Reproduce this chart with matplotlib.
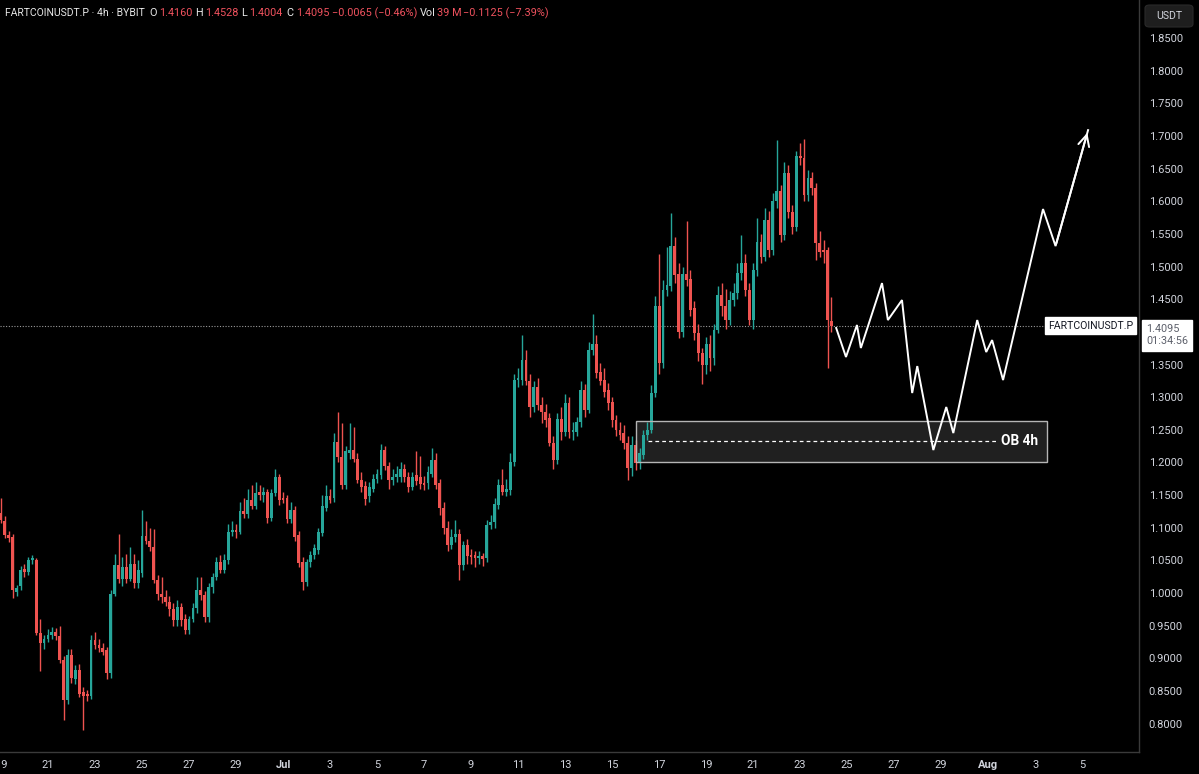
import matplotlib
matplotlib.use("Agg")
import matplotlib.pyplot as plt
from matplotlib.patches import Rectangle, FancyBboxPatch
import numpy as np

plt.rcParams['font.family'] = ['Roboto', 'DejaVu Sans']

# ---------------- data (4h candles, FARTCOINUSDT.P, Jun 19 00:00 -> Jul 24 08:00) ----------------
opens = [1.122,1.110,1.089,1.086,1.001,1.010,1.037,1.032,1.050,1.050,
         0.939,0.923,0.930,0.936,0.940,0.934,0.897,0.836,0.905,0.868,
         0.882,0.848,0.845,0.842,0.928,0.920,0.916,0.912,0.877,0.999,
         1.043,1.022,1.040,1.022,1.045,1.015,1.030,1.088,1.079,1.071,
         1.020,0.999,0.994,0.986,0.976,0.958,0.978,0.960,0.944,0.960,
         0.977,1.004,0.997,0.963,1.009,1.025,1.048,1.035,1.050,1.094,
         1.097,1.094,1.126,1.121,1.143,1.133,1.155,1.150,1.155,1.115,
         1.153,1.177,1.145,1.145,1.114,1.127,1.089,1.048,1.017,1.048,
         1.058,1.066,1.092,1.130,1.148,1.145,1.232,1.209,1.166,1.214,
         1.219,1.206,1.173,1.164,1.148,1.160,1.175,1.181,1.219,1.194,
         1.173,1.178,1.177,1.190,1.177,1.163,1.181,1.177,1.168,1.168,
         1.183,1.204,1.168,1.130,1.099,1.074,1.086,1.091,1.043,1.074,
         1.058,1.058,1.053,1.056,1.053,1.104,1.109,1.135,1.166,1.155,
         1.158,1.201,1.326,1.326,1.357,1.324,1.285,1.316,1.288,1.278,
         1.268,1.230,1.204,1.267,1.246,1.291,1.246,1.247,1.262,1.311,
         1.281,1.372,1.381,1.339,1.326,1.311,1.293,1.265,1.250,1.245,
         1.230,1.191,1.227,1.201,1.211,1.242,1.250,1.306,1.439,1.352,
         1.464,1.470,1.531,1.488,1.400,1.488,1.481,1.436,1.398,1.367,
         1.350,1.382,1.360,1.403,1.457,1.439,1.418,1.449,1.459,1.490,
         1.505,1.464,1.418,1.495,1.538,1.515,1.571,1.525,1.600,1.615,
         1.548,1.643,1.584,1.561,1.669,1.666,1.610,1.635,1.620,1.536,
         1.525,1.525,1.4160]
highs = [1.145,1.118,1.095,1.090,1.012,1.042,1.045,1.055,1.058,1.054,
         0.960,0.935,0.945,0.948,0.946,0.950,0.903,0.915,0.915,0.890,
         0.892,0.856,0.852,0.935,0.940,0.930,0.924,0.918,1.005,1.060,
         1.090,1.055,1.060,1.070,1.060,1.050,1.127,1.110,1.100,1.098,
         1.028,1.025,1.005,0.995,0.985,0.990,0.985,0.968,0.965,0.985,
         1.025,1.025,1.003,1.015,1.030,1.055,1.058,1.060,1.105,1.110,
         1.105,1.140,1.145,1.160,1.165,1.170,1.165,1.162,1.160,1.160,
         1.190,1.182,1.155,1.150,1.140,1.133,1.095,1.055,1.052,1.065,
         1.075,1.100,1.150,1.165,1.160,1.245,1.278,1.260,1.225,1.260,
         1.255,1.215,1.185,1.172,1.170,1.182,1.190,1.228,1.225,1.200,
         1.190,1.195,1.200,1.198,1.185,1.185,1.217,1.210,1.180,1.195,
         1.222,1.215,1.175,1.140,1.110,1.098,1.112,1.098,1.080,1.082,
         1.068,1.065,1.065,1.062,1.112,1.120,1.145,1.175,1.190,1.175,
         1.215,1.335,1.345,1.395,1.372,1.335,1.325,1.330,1.300,1.290,
         1.275,1.240,1.275,1.285,1.305,1.300,1.262,1.270,1.325,1.320,
         1.385,1.428,1.395,1.352,1.345,1.322,1.300,1.272,1.262,1.258,
         1.240,1.240,1.235,1.222,1.250,1.262,1.318,1.455,1.520,1.480,
         1.530,1.582,1.545,1.505,1.500,1.570,1.495,1.448,1.412,1.375,
         1.392,1.395,1.412,1.470,1.475,1.465,1.462,1.475,1.505,1.548,
         1.520,1.475,1.505,1.575,1.550,1.590,1.585,1.612,1.694,1.625,
         1.660,1.655,1.595,1.677,1.690,1.696,1.648,1.645,1.628,1.555,
         1.540,1.530,1.4528]
lows = [1.108,1.085,1.078,0.992,0.995,1.005,1.025,1.028,1.044,0.935,
        0.880,0.915,0.925,0.930,0.928,0.893,0.806,0.830,0.862,0.860,
        0.840,0.790,0.835,0.838,0.915,0.910,0.905,0.868,0.870,0.995,
        1.015,1.010,1.015,1.018,1.008,1.008,1.025,1.075,1.065,1.015,
        0.990,0.985,0.980,0.965,0.950,0.950,0.950,0.938,0.938,0.955,
        0.970,0.990,0.955,0.955,1.000,1.020,1.030,1.030,1.045,1.088,
        1.085,1.090,1.115,1.115,1.128,1.128,1.143,1.140,1.108,1.110,
        1.148,1.135,1.138,1.108,1.108,1.080,1.040,1.005,1.010,1.040,
        1.052,1.060,1.088,1.125,1.138,1.140,1.200,1.160,1.160,1.205,
        1.200,1.168,1.155,1.135,1.140,1.155,1.168,1.175,1.188,1.160,
        1.165,1.170,1.170,1.170,1.155,1.158,1.165,1.160,1.158,1.160,
        1.178,1.160,1.120,1.090,1.065,1.068,1.078,1.020,1.035,1.045,
        1.045,1.040,1.045,1.042,1.048,1.098,1.100,1.128,1.150,1.148,
        1.150,1.195,1.315,1.318,1.318,1.270,1.278,1.280,1.260,1.255,
        1.225,1.190,1.198,1.235,1.240,1.238,1.235,1.240,1.255,1.270,
        1.275,1.365,1.330,1.318,1.300,1.280,1.255,1.240,1.235,1.220,
        1.173,1.180,1.188,1.190,1.205,1.235,1.245,1.300,1.335,1.345,
        1.455,1.462,1.475,1.390,1.392,1.470,1.425,1.388,1.355,1.320,
        1.335,1.340,1.350,1.398,1.425,1.405,1.410,1.440,1.450,1.480,
        1.455,1.410,1.405,1.485,1.505,1.508,1.515,1.518,1.590,1.538,
        1.540,1.575,1.550,1.555,1.655,1.600,1.600,1.610,1.510,1.515,
        1.505,1.344,1.4004]
closes = [1.112,1.089,1.084,1.004,1.007,1.035,1.032,1.050,1.053,0.939,
          0.923,0.930,0.936,0.940,0.934,0.897,0.836,0.905,0.870,0.882,
          0.846,0.843,0.842,0.928,0.920,0.916,0.910,0.877,0.999,1.043,
          1.022,1.040,1.022,1.045,1.015,1.035,1.088,1.079,1.071,1.020,
          0.999,0.994,0.986,0.976,0.958,0.978,0.958,0.944,0.960,0.977,
          1.004,0.997,0.963,1.009,1.025,1.048,1.035,1.050,1.094,1.097,
          1.094,1.126,1.121,1.143,1.133,1.153,1.150,1.155,1.115,1.153,
          1.177,1.143,1.142,1.114,1.127,1.086,1.046,1.017,1.048,1.058,
          1.069,1.094,1.133,1.148,1.143,1.232,1.209,1.166,1.217,1.219,
          1.206,1.173,1.163,1.144,1.163,1.175,1.183,1.219,1.194,1.173,
          1.178,1.182,1.190,1.177,1.163,1.177,1.171,1.167,1.166,1.186,
          1.204,1.166,1.130,1.099,1.074,1.086,1.091,1.043,1.074,1.056,
          1.055,1.053,1.056,1.052,1.104,1.109,1.137,1.166,1.155,1.160,
          1.201,1.326,1.330,1.357,1.324,1.285,1.316,1.288,1.278,1.265,
          1.230,1.204,1.267,1.246,1.291,1.246,1.250,1.262,1.311,1.281,
          1.372,1.381,1.337,1.324,1.308,1.291,1.265,1.250,1.242,1.230,
          1.191,1.227,1.199,1.214,1.242,1.250,1.306,1.439,1.352,1.464,
          1.472,1.531,1.487,1.400,1.488,1.479,1.434,1.398,1.367,1.350,
          1.382,1.360,1.403,1.457,1.439,1.418,1.449,1.459,1.490,1.505,
          1.464,1.418,1.495,1.538,1.515,1.571,1.525,1.600,1.615,1.548,
          1.643,1.584,1.561,1.669,1.667,1.610,1.635,1.620,1.536,1.523,
          1.522,1.418,1.4095]

# date axis (candle index of each label, 6 candles per day)
date_tick_pos = [0, 12, 24, 36, 48, 60, 72, 84, 96, 108, 120, 132, 144, 156,
                 168, 180, 192, 204, 216, 228, 240, 252, 264, 276]
date_tick_labels = ['19', '21', '23', '25', '27', '29', 'Jul', '3', '5', '7', '9', '11',
                    '13', '15', '17', '19', '21', '23', '25', '27', '29', 'Aug', '3', '5']
price_ticks = [0.80, 0.85, 0.90, 0.95, 1.00, 1.05, 1.10, 1.15, 1.20, 1.25, 1.30, 1.35,
               1.40, 1.45, 1.50, 1.55, 1.60, 1.65, 1.70, 1.75, 1.80, 1.85]

last_price = 1.4095
countdown = '01:34:56'

# order block zone
ob_top, ob_bottom, ob_mid = 1.2634, 1.2006, 1.2328
ob_start, ob_end = 162.1, 267.0

# projected path (candle index, price)
proj_x = [213.2, 215.7, 218.5, 219.5, 224.9, 226.4, 230.0, 232.6, 233.9, 238.0,
          241.3, 243.1, 249.2, 251.5, 253.0, 255.8, 266.0, 269.2, 277.5]
proj_y = [1.4059, 1.3615, 1.4105, 1.3753, 1.4747, 1.4181, 1.4487, 1.3063, 1.3476, 1.2190,
          1.2849, 1.2450, 1.4181, 1.3691, 1.3874, 1.3262, 1.5881, 1.5314, 1.7090]

# header: (text, colour key, left pixel, font size)
header_parts = [("FARTCOINUSDT.P · 4h · BYBIT", 'w', 5, 7.5), ("O", 'w', 149, 7.8),
                ("1.4160", 'r', 159, 7.8), ("H", 'w', 195, 7.8), ("1.4528", 'r', 205, 7.8),
                ("L", 'w', 241, 7.8), ("1.4004", 'r', 249, 7.8), ("C", 'w', 286, 7.8),
                ("1.4095", 'r', 296, 7.8), ("−0.0065 (−0.46%)", 'r', 332, 7.8),
                ("Vol", 'w', 420, 7.8), ("39 M", 'r', 437, 7.8),
                ("−0.1125 (−7.39%)", 'r', 463, 7.8)]

# ---------------- drawing ----------------
W, H = 1199, 774
UP, DOWN = '#26a69a', '#ef5350'
TXT = '#d1d4dc'

fig = plt.figure(figsize=(W / 100, H / 100), dpi=100, facecolor='black')
ax = fig.add_axes([0, 22 / H, 1139 / W, 1 - 22 / H])
ax.set_facecolor('black')

o = np.array(opens); c = np.array(closes); hi = np.array(highs); lo = np.array(lows)
idx = np.arange(len(o))
cols = [UP if cc >= oo else DOWN for oo, cc in zip(o, c)]
ax.vlines(idx, lo, hi, colors=cols, linewidth=1.0, zorder=3)
body_bot = np.minimum(o, c)
body_h = np.maximum(np.abs(c - o), 0.0015)
ax.bar(idx, body_h, bottom=body_bot, width=0.72, color=cols, linewidth=0, zorder=4)

# order block
ax.add_patch(Rectangle((ob_start, ob_bottom), ob_end - ob_start, ob_top - ob_bottom,
                       facecolor='#262626', edgecolor='none', alpha=0.85, zorder=2))
ax.add_patch(Rectangle((ob_start, ob_bottom), ob_end - ob_start, ob_top - ob_bottom,
                       facecolor='none', edgecolor='#b5b5b5', linewidth=1.0, zorder=5))
ax.plot([ob_start + 3, ob_end - 12.5], [ob_mid, ob_mid], color='white', lw=0.9,
        ls=(0, (3, 2.5)), zorder=5)
ax.text(ob_end - 11.7, ob_mid, 'OB 4h', color='white', fontsize=9.8, fontweight='bold',
        va='center', ha='left', zorder=6)

# projection
ax.plot(proj_x, proj_y, color='white', lw=1.4, zorder=6, solid_joinstyle='miter')
ax.annotate('', xy=(proj_x[-1], proj_y[-1]), xytext=(proj_x[-2], proj_y[-2]),
            arrowprops=dict(arrowstyle='->,head_length=0.8,head_width=0.4', color='white', lw=1.4),
            zorder=7)

# last price line
ax.axhline(last_price, xmin=0, xmax=1045 / 1139, color='#9a9a9a', lw=0.8, ls=(0, (1, 1.5)), zorder=1)
ax.annotate('FARTCOINUSDT.P', xy=(1048 / 1139, last_price), xycoords=('axes fraction', 'data'),
            color='#131722', fontsize=7.6, va='center', ha='left',
            bbox=dict(boxstyle='square,pad=0.3', fc='white', ec='white'), zorder=8,
            annotation_clip=False)
ax.annotate('1.4095\n' + countdown, xy=(1.0, last_price), xycoords=('axes fraction', 'data'),
            xytext=(5, -7), textcoords='offset points',
            color='#5d606b', fontsize=7.8, va='center', ha='left', linespacing=1.25,
            bbox=dict(boxstyle='square,pad=0.4', fc='white', ec='white'), zorder=8,
            annotation_clip=False)

# axes
ax.set_xlim(-0.25, 290.5)
ax.set_ylim(0.7565, 1.9083)
ax.yaxis.tick_right()
ax.set_yticks(price_ticks)
# the 1.4000 label is hidden behind the last-price tag in the reference
ax.set_yticklabels(['' if abs(p - 1.40) < 1e-9 else f'{p:.4f}' for p in price_ticks])
ax.set_xticks(date_tick_pos)
ax.set_xticklabels(date_tick_labels)
for lab in ax.get_xticklabels():
    if lab.get_text() in ('Jul', 'Aug'):
        lab.set_fontweight('bold')
ax.tick_params(axis='y', length=0, pad=7, labelsize=8.0, labelcolor=TXT)
ax.tick_params(axis='x', length=0, pad=6, labelsize=8.0, labelcolor=TXT)
for s in ('left', 'top'):
    ax.spines[s].set_visible(False)
for s in ('right', 'bottom'):
    ax.spines[s].set_color('#3a3a3a')
    ax.spines[s].set_linewidth(1.0)

# USDT box
fig.patches.append(FancyBboxPatch((1145 / W, 1 - 27 / H), 48 / W, 22 / H,
                                  boxstyle='round,pad=0,rounding_size=0.004',
                                  transform=fig.transFigure, fc='#1e1e1e', ec='#2a2a2a', lw=0.8))
fig.text(1169 / W, 1 - 16 / H, 'USDT', color=TXT, fontsize=7.6, ha='center', va='center')

# header
for s, col, xp, fs in header_parts:
    fig.text(xp / W, 1 - 13 / H, s, color=('#e8e8e8' if col == 'w' else '#f0525e'),
             fontsize=fs, ha='left', va='center')

fig.savefig('out.png', dpi=100, facecolor='black')
